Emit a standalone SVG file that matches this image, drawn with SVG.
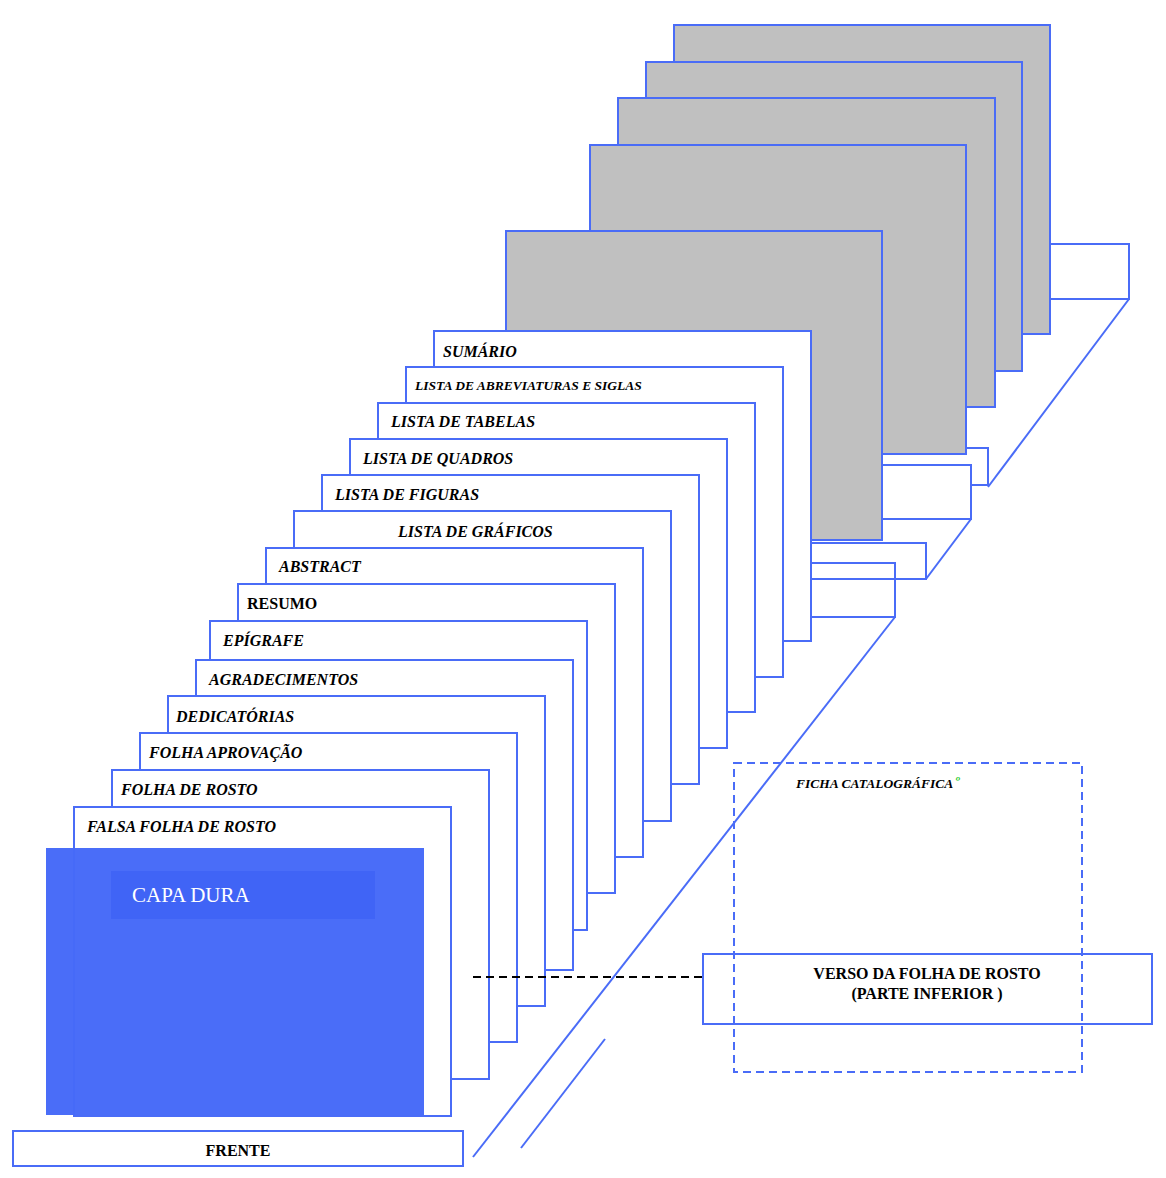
<svg xmlns="http://www.w3.org/2000/svg" width="1166" height="1178" viewBox="0 0 1166 1178">
<style>
.pg{fill:#ffffff;stroke:#4a6cf7;stroke-width:2}
.gp{fill:#c0c0c0;stroke:#4a6cf7;stroke-width:2}
.ob{fill:none;stroke:#4a6cf7;stroke-width:2}
.wb{fill:#ffffff;stroke:#4a6cf7;stroke-width:2}
.ln{fill:none;stroke:#4a6cf7;stroke-width:2}
.lb{font-family:"Liberation Serif","Times New Roman",serif;font-weight:bold;font-style:italic;font-size:16px;fill:#000}
.sm{font-size:13.5px}
.bd{font-family:"Liberation Serif","Times New Roman",serif;font-weight:bold;font-size:16px;fill:#000}
</style>
<rect width="1166" height="1178" fill="#ffffff"/>
<g id="back-pages">
<g id="gray-1"><rect class="gp" x="674" y="25" width="376" height="309"/></g>
<g id="gray-2"><rect class="gp" x="646" y="62" width="376" height="309"/></g>
<g id="gray-3"><rect class="gp" x="618" y="98" width="377" height="309"/></g>
<g id="edge-1"><rect class="ob" x="1050" y="244" width="79" height="55"/></g>
<g id="edge-2"><rect class="wb" x="882" y="448" width="106" height="37"/></g>
<g id="gray-4"><rect class="gp" x="590" y="145" width="376" height="309"/></g>
<g id="gray-5"><rect class="gp" x="506" y="231" width="376" height="309"/></g>
<g id="edge-3"><rect class="wb" x="882" y="465" width="89" height="54"/></g>
</g>
<g id="pages">
<g id="sumario"><rect class="pg" x="434" y="331" width="377" height="310"/><text class="lb" x="443" y="357">SUMÁRIO</text></g>
<g id="abreviaturas"><rect class="pg" x="406" y="367" width="377" height="310"/><text class="lb sm" x="415" y="390">LISTA DE ABREVIATURAS E SIGLAS</text></g>
<g id="tabelas"><rect class="pg" x="378" y="403" width="377" height="309"/><text class="lb" x="391" y="427">LISTA DE TABELAS</text></g>
<g id="quadros"><rect class="pg" x="350" y="439" width="377" height="309"/><text class="lb" x="363" y="464">LISTA DE QUADROS</text></g>
<g id="figuras"><rect class="pg" x="322" y="475" width="377" height="309"/><text class="lb" x="335" y="500">LISTA DE FIGURAS</text></g>
<g id="graficos"><rect class="pg" x="294" y="511" width="377" height="310"/><text class="lb" x="398" y="537">LISTA DE GRÁFICOS</text></g>
<g id="abstract"><rect class="pg" x="266" y="548" width="377" height="309"/><text class="lb" x="279" y="572">ABSTRACT</text></g>
<g id="resumo"><rect class="pg" x="238" y="584" width="377" height="309"/><text class="bd" x="247" y="609">RESUMO</text></g>
<g id="epigrafe"><rect class="pg" x="210" y="621" width="377" height="309"/><text class="lb" x="223" y="646">EPÍGRAFE</text></g>
<g id="agradecimentos"><rect class="pg" x="196" y="660" width="377" height="310"/><text class="lb" x="209" y="685">AGRADECIMENTOS</text></g>
<g id="dedicatorias"><rect class="pg" x="168" y="696" width="377" height="310"/><text class="lb" x="176" y="722">DEDICATÓRIAS</text></g>
<g id="aprovacao"><rect class="pg" x="140" y="733" width="377" height="309"/><text class="lb" x="149" y="758">FOLHA APROVAÇÃO</text></g>
<g id="rosto"><rect class="pg" x="112" y="770" width="377" height="309"/><text class="lb" x="121" y="795">FOLHA DE ROSTO</text></g>
<g id="falsa"><rect class="pg" x="74" y="807" width="377" height="309"/><text class="lb" x="87" y="832">FALSA FOLHA DE ROSTO</text></g>
</g>
<g id="edges-front">
<g id="edge-4"><rect class="ob" x="811" y="543" width="115" height="36"/></g>
<g id="edge-5"><rect class="ob" x="811" y="563" width="84" height="54"/></g>
</g>
<g id="connectors">
<line class="ln" x1="1129" y1="299" x2="988" y2="487"/>
<line class="ln" x1="971" y1="519" x2="926" y2="579"/>
<line class="ln" x1="895" y1="617" x2="473" y2="1157"/>
<line class="ln" x1="605" y1="1039" x2="521" y2="1148"/>
<line x1="473" y1="977" x2="703" y2="977" stroke="#000" stroke-width="2" stroke-dasharray="8,5"/>
</g>
<g id="verso"><rect class="wb" x="703" y="954" width="449" height="70"/><text class="bd" x="927" y="979" text-anchor="middle">VERSO DA FOLHA DE ROSTO</text><text class="bd" x="927" y="999" text-anchor="middle">(PARTE INFERIOR )</text></g>
<g id="ficha"><rect x="734" y="763" width="348" height="309" fill="none" stroke="#4a6cf7" stroke-width="2" stroke-dasharray="8,5"/><text class="lb sm" x="796" y="788">FICHA CATALOGRÁFICA</text><text x="955" y="787" font-family="Liberation Serif, serif" font-weight="bold" font-style="italic" font-size="15" fill="#33cc33">º</text></g>
<g id="capa"><rect x="46" y="848" width="378" height="267" fill="#466af8" fill-opacity="0.98"/><rect x="111" y="871" width="264" height="48" fill="#4064f6"/><text x="132" y="902" font-family="Liberation Serif, 'Times New Roman', serif" font-size="21" fill="#ffffff">CAPA DURA</text></g>
<g id="frente"><rect class="wb" x="13" y="1131" width="450" height="35"/><text class="bd" x="238" y="1156" text-anchor="middle">FRENTE</text></g>
</svg>
